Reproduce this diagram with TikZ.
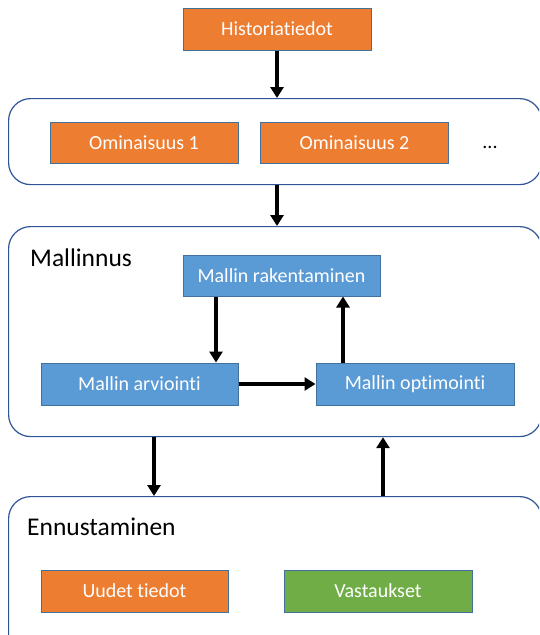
\documentclass[tikz,border=0pt]{standalone}
\usepackage{fontspec}
\setmainfont{Carlito}[Ligatures=NoCommon]
\usetikzlibrary{arrows.meta,calc}
\definecolor{boxorange}{HTML}{ED7D31}
\definecolor{boxblue}{HTML}{5B9BD5}
\definecolor{boxgreen}{HTML}{70AD47}
\definecolor{boxedge}{HTML}{41719C}
\definecolor{groupedge}{HTML}{2F5597}
\begin{document}
\begin{tikzpicture}[x=1pt,y=-1pt,
  stepbox/.style={draw=boxedge, line width=1pt, text=white,
    font=\fontsize{20}{24}\selectfont, minimum height=41pt, inner sep=0pt},
  orangebox/.style={stepbox, fill=boxorange},
  bluebox/.style={stepbox, fill=boxblue},
  greenbox/.style={stepbox, fill=boxgreen},
  group/.style={draw=groupedge, line width=1.2pt, rounded corners=22pt,
    fill=white, anchor=north west, inner sep=0pt},
  heading/.style={font=\fontsize{25.5}{30}\selectfont, anchor=base west, inner sep=0pt},
  flow/.style={line width=3.8pt, -{Triangle[width=13pt,length=11pt]}}]

\path[use as bounding box] (0,0) rectangle (539,635);
\clip (0,0) rectangle (539,635);

% group frames (they run past the right and bottom edges)
\node[group, minimum width=533pt, minimum height=86pt] (features) at (8,98) {};
\node[group, minimum width=533pt, minimum height=210pt] (modelling) at (8,226) {};
\node[group, minimum width=533pt, minimum height=170pt] (forecast) at (8,496) {};

% source data
\node[orangebox, minimum width=188pt, minimum height=42pt] (hist) at (277,29) {Historiatiedot};

% features
\node[orangebox, minimum width=188pt] (feat1) at (144,142.5) {Ominaisuus 1};
\node[orangebox, minimum width=188pt] (feat2) at (354.5,142.5) {Ominaisuus 2};
\node[font=\fontsize{20}{24}\selectfont, inner sep=0pt] (more) at (490,147) {...};

% modelling loop
\node[heading] (mtitle) at (30,266) {Mallinnus};
\node[bluebox, minimum width=197pt] (build) at (281.5,275.5) {Mallin rakentaminen};
\node[bluebox, minimum width=197pt, minimum height=42pt] (eval) at (139.5,384) {Mallin arviointi};
\node[bluebox, minimum width=198pt, minimum height=42pt] (opt) at (415,384) {Mallin optimointi};

% forecasting
\node[heading] (ftitle) at (27,535) {Ennustaminen};
\node[orangebox, minimum width=187pt, minimum height=42pt] (newdata) at (134.5,591) {Uudet tiedot};
\node[greenbox, minimum width=188pt, minimum height=42pt] (answers) at (378,591) {Vastaukset};

% connector columns
\coordinate (xa) at (216,0);
\coordinate (xb) at (343,0);
\coordinate (xc) at (154,0);
\coordinate (xd) at (383,0);

\draw[flow] (hist.south) -- (hist.south |- features.north);
\draw[flow] (features.south -| hist.south) -- (modelling.north -| hist.south);
\draw[flow] (build.south -| xa) -- (eval.north -| xa);
\draw[flow] (eval.east) -- (opt.west);
\draw[flow] (opt.north -| xb) -- (build.south -| xb);
\draw[flow] (modelling.south -| xc) -- (forecast.north -| xc);
\draw[flow] (forecast.north -| xd) -- (modelling.south -| xd);
\end{tikzpicture}
\end{document}
